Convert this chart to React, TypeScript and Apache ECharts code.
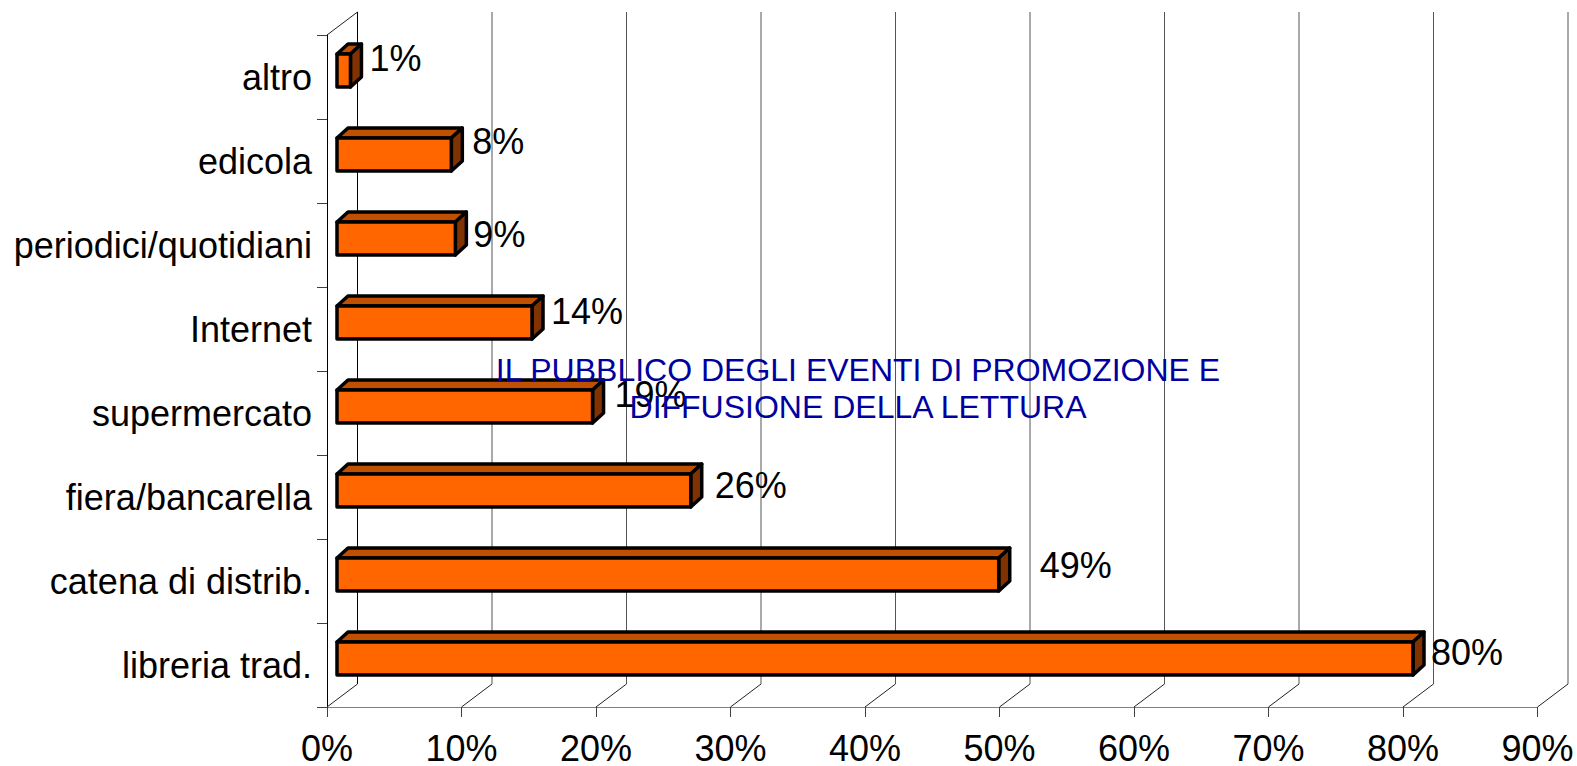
import React, { useEffect, useRef } from "react";
import * as echarts from "echarts";

const categories = ["libreria trad.", "catena di distrib.", "fiera/bancarella", "supermercato", "Internet", "periodici/quotidiani", "edicola", "altro"];
const values = [80, 49.2, 26.3, 19, 14.5, 8.8, 8.5, 1];
const valueLabels = ["80%", "49%", "26%", "19%", "14%", "9%", "8%", "1%"];
const xTicks = [0, 10, 20, 30, 40, 50, 60, 70, 80, 90];
const titleText = "IL PUBBLICO DEGLI EVENTI DI PROMOZIONE E\nDIFFUSIONE DELLA LETTURA";

// hand-placed label offsets of the original, [dx from bar end, dy from band centre]
const labelNudges = [[7, -13], [30, -15.5], [13, -11.5], [11, -19], [8, -18], [7, -11], [10, -19.5], [8, -19]];

const FONT = '"Liberation Sans", Arial, sans-serif';
const DEPTH_X = 30.5;
const DEPTH_Y = 23;
const GAP_X = 10;
const GAP_Y = 6.5;
const BAR_DX = 11;
const BAR_DY = 10;
const BAR_H = 33;

export default function App() {
  const ref = useRef<HTMLDivElement>(null);
  useEffect(() => {
    document.body.style.margin = "0";
    document.body.style.background = "#fff";
    const chart = echarts.init(ref.current!, undefined, { renderer: "svg" });
    chart.setOption({
      animation: false,
      backgroundColor: "#ffffff",
      title: {
        text: titleText,
        left: 853,
        top: 346,
        textAlign: "center",
        z: 20,
        textStyle: { color: "#0000A0", fontFamily: FONT, fontSize: 32, fontWeight: "normal", lineHeight: 37 },
      },
      grid: { left: 327, right: 39.5, top: 35, bottom: 57 },
      xAxis: {
        type: "value",
        min: 0,
        max: 90,
        interval: 10,
        splitLine: { show: false },
        axisLine: { show: true, onZero: false, lineStyle: { color: "#808080", width: 1 } },
        axisTick: { show: true, length: 10, lineStyle: { color: "#404040", width: 1 } },
        axisLabel: { color: "#000", fontFamily: FONT, fontSize: 36, lineHeight: 18, margin: 32, formatter: "{value}%", hideOverlap: false, showMinLabel: true, showMaxLabel: true },
      },
      yAxis: {
        type: "category",
        data: categories,
        axisLine: { show: true, lineStyle: { color: "#000", width: 1 } },
        axisTick: { show: true, length: 10, alignWithLabel: false, lineStyle: { color: "#404040", width: 1 } },
        axisLabel: { color: "#000", fontFamily: FONT, fontSize: 36, margin: 15, padding: [0, 0, 18, 0], interval: 0 },
      },
      series: [
        {
          type: "custom",
          coordinateSystem: "cartesian2d",
          clip: false,
          silent: true,
          z: 1,
          data: xTicks.map((t) => [t, 0]),
          encode: { x: 0, y: 1 },
          renderItem: (params: any, api: any) => {
            const cs = params.coordSys;
            const x = api.coord([api.value(0), 0])[0];
            const bottom = cs.y + cs.height;
            const top = cs.y;
            const gray = api.value(0) === 0 ? "#000" : "#555";
            const children: any[] = [
              { type: "line", shape: { x1: x + DEPTH_X, y1: top - DEPTH_Y, x2: x + DEPTH_X, y2: bottom - DEPTH_Y }, style: { stroke: gray, lineWidth: 1 } },
              { type: "line", shape: { x1: x, y1: bottom, x2: x + DEPTH_X, y2: bottom - DEPTH_Y }, style: { stroke: "#222", lineWidth: 1 } },
            ];
            if (api.value(0) === 0) {
              children.push({ type: "line", shape: { x1: x, y1: top, x2: x + DEPTH_X, y2: top - DEPTH_Y }, style: { stroke: "#222", lineWidth: 1 } });
            }
            return { type: "group", children };
          },
        },
        {
          type: "custom",
          coordinateSystem: "cartesian2d",
          clip: false,
          silent: true,
          z: 5,
          data: values.map((v, i) => [v, i]),
          encode: { x: 0, y: 1 },
          renderItem: (params: any, api: any) => {
            const i = params.dataIndex;
            const [xEnd, yMid] = api.coord([api.value(0), i]);
            const x0 = api.coord([0, i])[0] + GAP_X;
            const x1 = xEnd + GAP_X;
            const yc = yMid - GAP_Y;
            const t = yc - BAR_H / 2;
            const b = yc + BAR_H / 2;
            const stroke = { stroke: "#000", lineWidth: 3.5, lineJoin: "round" };
            const [nx, ny] = labelNudges[i];
            return {
              type: "group",
              children: [
                { type: "polygon", shape: { points: [[x0, t], [x0 + BAR_DX, t - BAR_DY], [x1 + BAR_DX, t - BAR_DY], [x1, t]] }, style: { fill: "#C05000", ...stroke } },
                { type: "polygon", shape: { points: [[x1, t], [x1 + BAR_DX, t - BAR_DY], [x1 + BAR_DX, b - BAR_DY], [x1, b]] }, style: { fill: "#803300", ...stroke } },
                { type: "rect", shape: { x: x0, y: t, width: x1 - x0, height: b - t }, style: { fill: "#FF6600", ...stroke } },
                {
                  type: "text",
                  style: {
                    text: valueLabels[i],
                    x: x1 + BAR_DX + nx,
                    y: yMid + ny,
                    fill: "#000",
                    font: `36px ${FONT}`,
                    align: "left",
                    verticalAlign: "middle",
                  },
                },
              ],
            };
          },
        },
      ],
    });
    return () => chart.dispose();
  }, []);
  return <div ref={ref} style={{ width: 1577, height: 766 }} />;
}
